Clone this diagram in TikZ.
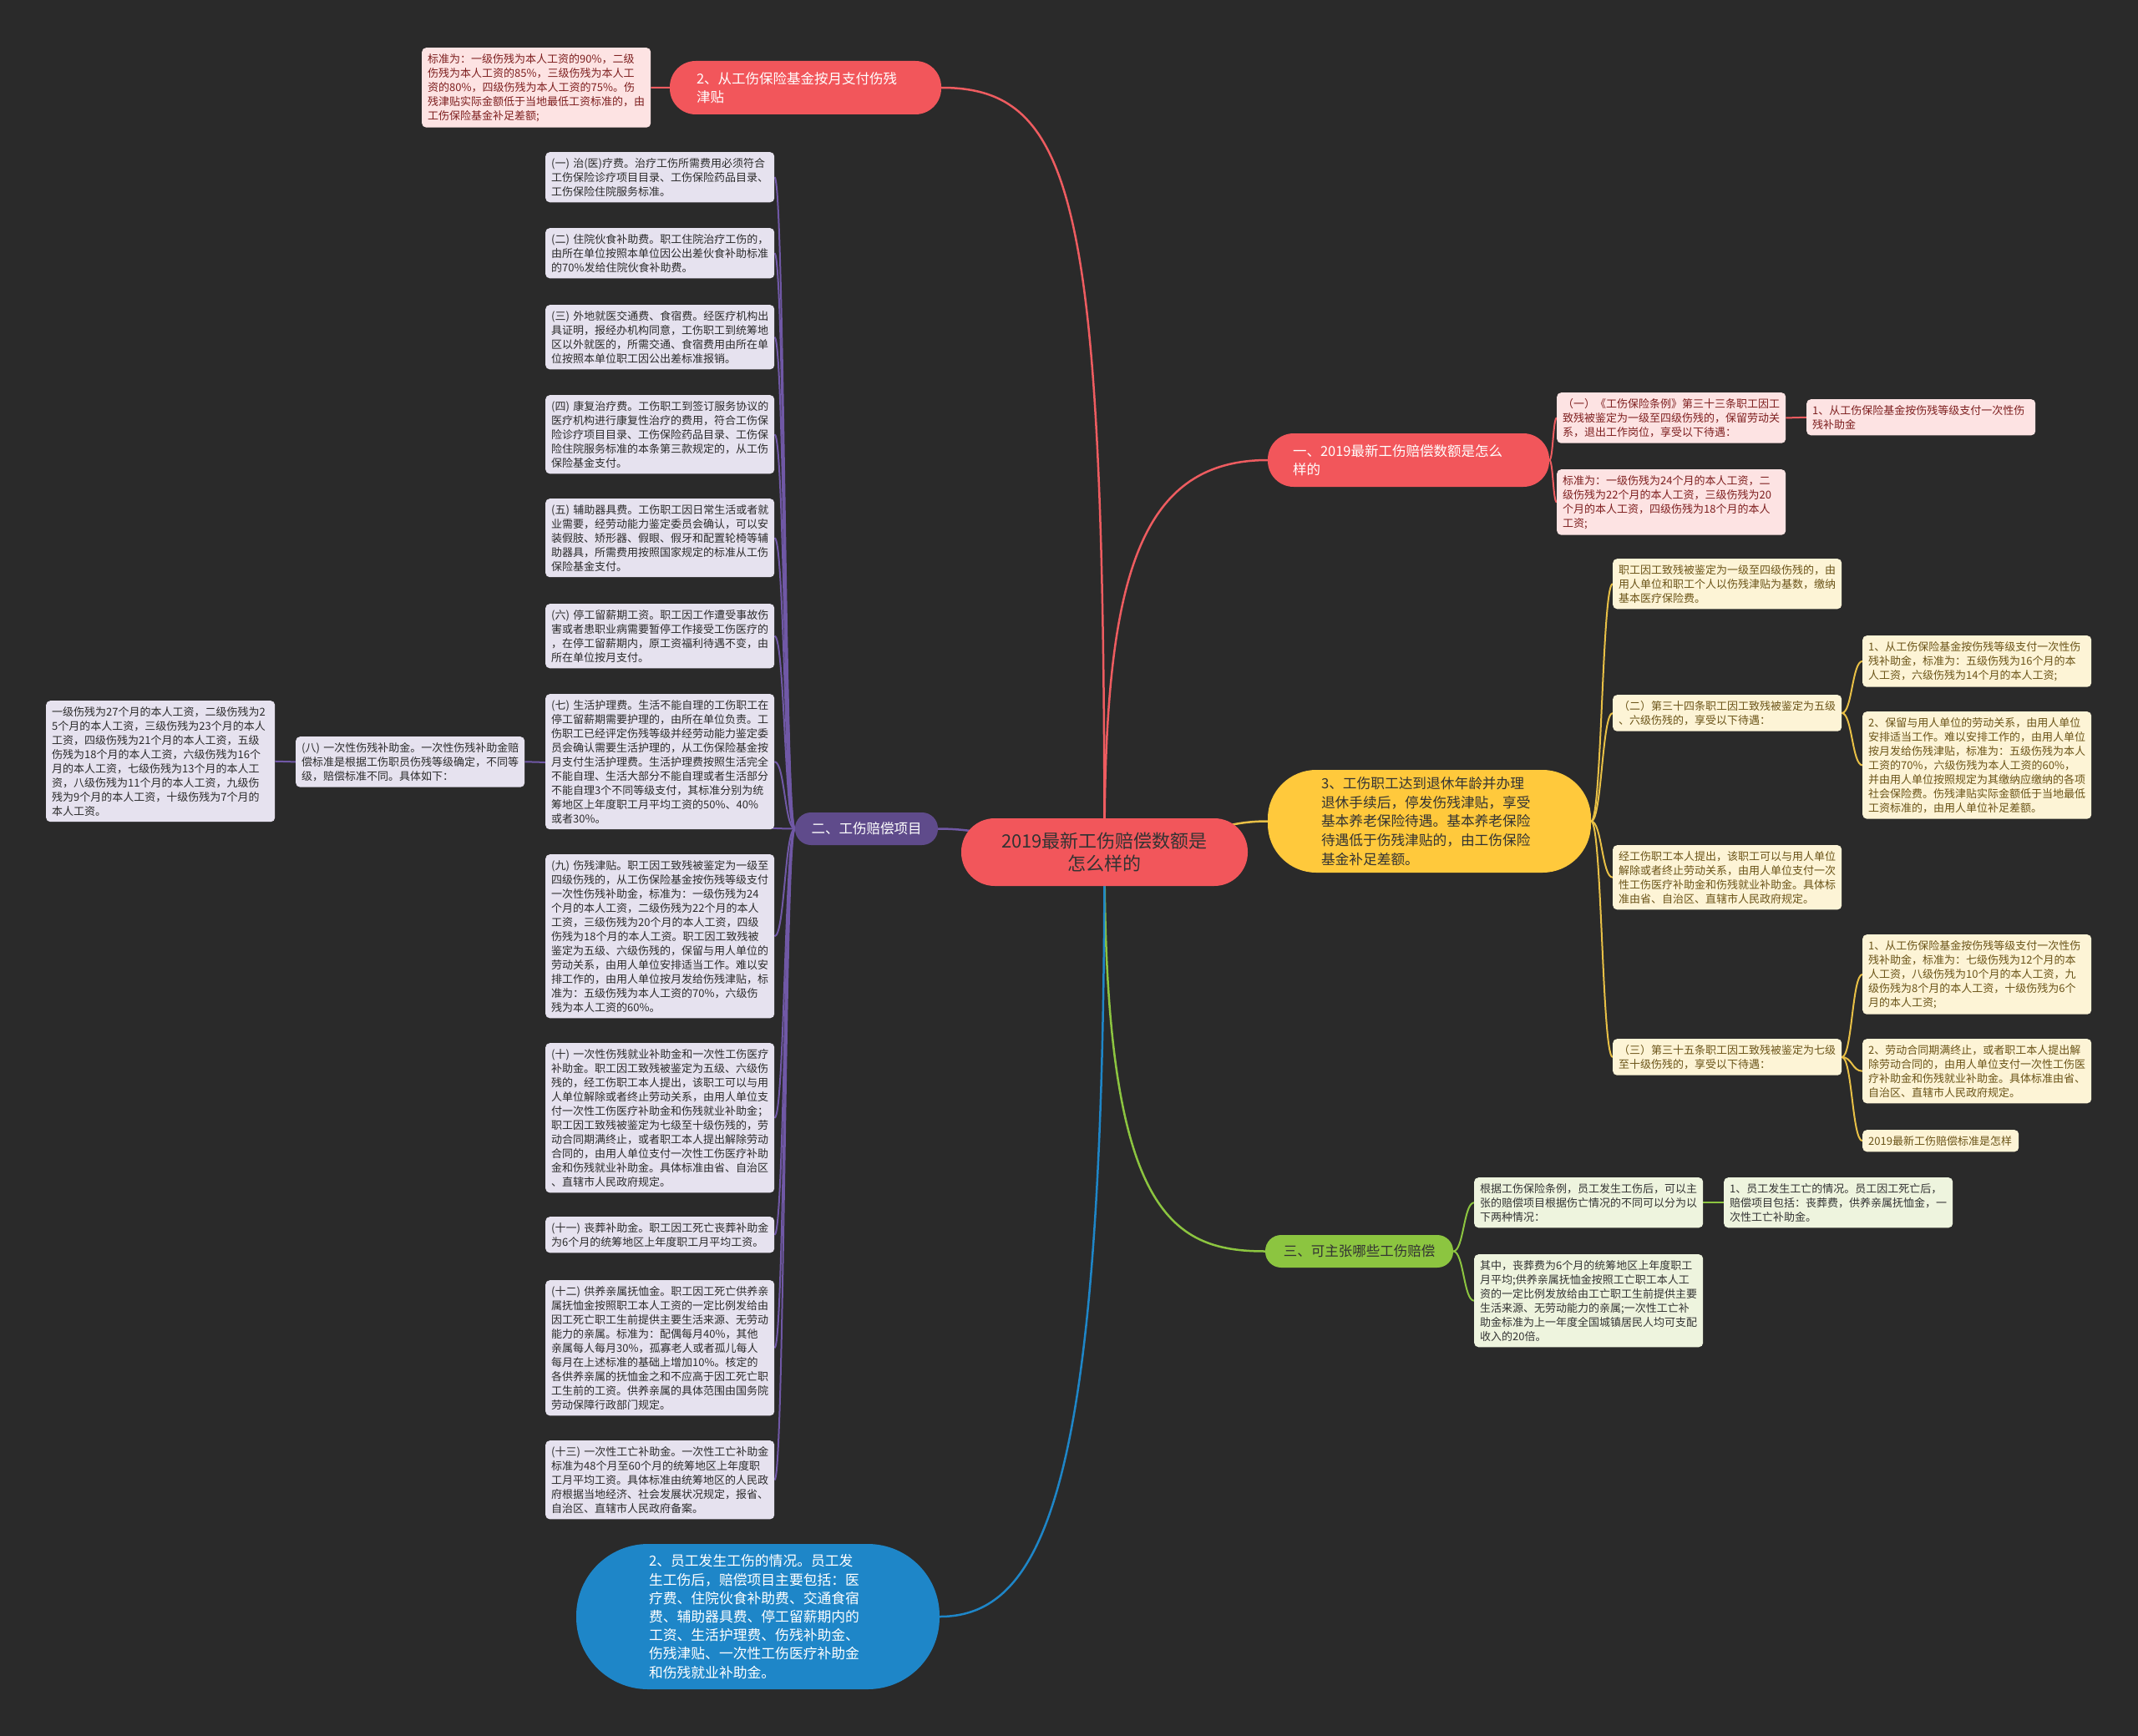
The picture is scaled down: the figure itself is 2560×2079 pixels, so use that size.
\documentclass[tikz,border=0pt]{standalone}
\usepackage{fontspec}
\setmainfont{Noto Sans CJK SC}
\usetikzlibrary{calc}
\pgfdeclarelayer{bg}
\pgfdeclarelayer{edges}
\pgfsetlayers{bg,edges,main}
\definecolor{bgc}{HTML}{2A2A2A}
\definecolor{redp}{HTML}{F2565B}
\definecolor{redl}{HTML}{EE5C60}
\definecolor{pinkf}{HTML}{FDE3E3}
\definecolor{pinkt}{HTML}{7E1F1F}
\definecolor{purp}{HTML}{5F4B8B}
\definecolor{purl}{HTML}{7058A6}
\definecolor{lavf}{HTML}{E6E2EF}
\definecolor{lavt}{HTML}{2B2B2B}
\definecolor{yelp}{HTML}{FFC93C}
\definecolor{yell}{HTML}{E8C046}
\definecolor{creamf}{HTML}{FDF4D6}
\definecolor{creamt}{HTML}{6B5418}
\definecolor{grnp}{HTML}{8CC540}
\definecolor{grnf}{HTML}{EEF4DE}
\definecolor{bluep}{HTML}{1E86C8}
\definecolor{darkt}{HTML}{333333}
\newcommand{\mmlink}[3]{\draw[#1] let \p1=(#2), \p2=(#3) in (\p1) .. controls ({(\x1+\x2)/2},\y1) and ({(\x1+\x2)/2},\y2) .. (\p2);}
\tikzset{
  box/.style={anchor=north west, rounded corners=5pt, inner xsep=7pt, inner ysep=7pt, text width=260pt, align=left, font=\fontsize{13}{17}\selectfont},
  lbox/.style={box, fill=lavf, text=lavt},
  pbox/.style={box, fill=pinkf, text=pinkt},
  ybox/.style={box, fill=creamf, text=creamt},
  gbox/.style={box, fill=grnf, text=darkt},
  pill/.style={inner sep=0pt, align=left, font=\fontsize{16.5}{21.7}\selectfont},
  redline/.style={draw=redl, line width=2pt},
  purline/.style={draw=purl, line width=2pt},
  yelline/.style={draw=yell, line width=2pt},
  grnline/.style={draw=grnp, line width=2pt},
  bluline/.style={draw=bluep, line width=2pt},
}
\begin{document}
\begin{tikzpicture}[x=1pt,y=-1pt]
\useasboundingbox (0,0) rectangle (2560,2079);
\begin{pgfonlayer}{bg}
\fill[bgc] (0,0) rectangle (2560,2079);
\end{pgfonlayer}

% centre
\node[fill=redp, text=darkt, minimum width=343pt, minimum height=81pt, rounded corners=40pt, align=center, inner sep=0pt, font=\fontsize{22}{27.7}\selectfont] (c) at (1322.5,1020.5) {2019最新工伤赔偿数额是\\怎么样的};

% red branch 1
\node[pill, fill=redp, text=white, minimum width=325pt, minimum height=64pt, text width=261pt, rounded corners=31pt] (r1) at (964.5,105) {2、从工伤保险基金按月支付伤残\\津贴};
\node[pbox] (note) at (505,57) {标准为：一级伤残为本人工资的90\%，二级\\伤残为本人工资的85\%，三级伤残为本人工\\资的80\%，四级伤残为本人工资的75\%。伤\\残津贴实际金额低于当地最低工资标准的，由\\工伤保险基金补足差额;};

% red branch 2
\node[pill, fill=redp, text=white, minimum width=337pt, minimum height=64pt, text width=277pt, rounded corners=31pt] (r2) at (1686.5,551) {一、2019最新工伤赔偿数额是怎么\\样的};
\node[pbox] (p1) at (1864,470) {（一）《工伤保险条例》第三十三条职工因工\\致残被鉴定为一级至四级伤残的，保留劳动关\\系，退出工作岗位，享受以下待遇：};
\node[pbox] (p2) at (2163,478) {1、从工伤保险基金按伤残等级支付一次性伤\\残补助金};
\node[pbox] (p3) at (1864,562) {标准为：一级伤残为24个月的本人工资，二\\级伤残为22个月的本人工资，三级伤残为20\\个月的本人工资，四级伤残为18个月的本人\\工资;};

% yellow branch
\node[pill, fill=yelp, text=darkt, minimum width=387pt, minimum height=123pt, text width=259pt, rounded corners=58pt, font=\fontsize{16.7}{22.7}\selectfont] (y) at (1711.5,983.5) {3、工伤职工达到退休年龄并办理\\退休手续后，停发伤残津贴，享受\\基本养老保险待遇。基本养老保险\\待遇低于伤残津贴的，由工伤保险\\基金补足差额。};
\node[ybox] (y1) at (1931,669) {职工因工致残被鉴定为一级至四级伤残的，由\\用人单位和职工个人以伤残津贴为基数，缴纳\\基本医疗保险费。};
\node[ybox] (y2) at (1931,832) {（二）第三十四条职工因工致残被鉴定为五级\\、六级伤残的，享受以下待遇：};
\node[ybox] (y2a) at (2230,761) {1、从工伤保险基金按伤残等级支付一次性伤\\残补助金，标准为：五级伤残为16个月的本\\人工资，六级伤残为14个月的本人工资;};
\node[ybox] (y2b) at (2230,852) {2、保留与用人单位的劳动关系，由用人单位\\安排适当工作。难以安排工作的，由用人单位\\按月发给伤残津贴，标准为：五级伤残为本人\\工资的70\%，六级伤残为本人工资的60\%，\\并由用人单位按照规定为其缴纳应缴纳的各项\\社会保险费。伤残津贴实际金额低于当地最低\\工资标准的，由用人单位补足差额。};
\node[ybox] (y3) at (1931,1012) {经工伤职工本人提出，该职工可以与用人单位\\解除或者终止劳动关系，由用人单位支付一次\\性工伤医疗补助金和伤残就业补助金。具体标\\准由省、自治区、直辖市人民政府规定。};
\node[ybox] (y4) at (1931,1244) {（三）第三十五条职工因工致残被鉴定为七级\\至十级伤残的，享受以下待遇：};
\node[ybox] (y4a) at (2230,1119) {1、从工伤保险基金按伤残等级支付一次性伤\\残补助金，标准为：七级伤残为12个月的本\\人工资，八级伤残为10个月的本人工资，九\\级伤残为8个月的本人工资，十级伤残为6个\\月的本人工资;};
\node[ybox] (y4b) at (2230,1244) {2、劳动合同期满终止，或者职工本人提出解\\除劳动合同的，由用人单位支付一次性工伤医\\疗补助金和伤残就业补助金。具体标准由省、\\自治区、直辖市人民政府规定。};
\node[ybox, text width=173pt] (y4c) at (2230,1353) {2019最新工伤赔偿标准是怎样};

% green branch
\node[pill, fill=grnp, text=darkt, minimum width=225pt, minimum height=39pt, rounded corners=19pt, align=center] (g) at (1627.5,1498.5) {三、可主张哪些工伤赔偿};
\node[gbox] (g1) at (1765,1410) {根据工伤保险条例，员工发生工伤后，可以主\\张的赔偿项目根据伤亡情况的不同可以分为以\\下两种情况：};
\node[gbox] (g1a) at (2064,1410) {1、员工发生工亡的情况。员工因工死亡后，\\赔偿项目包括：丧葬费，供养亲属抚恤金，一\\次性工亡补助金。};
\node[gbox] (g2) at (1765,1502) {其中，丧葬费为6个月的统筹地区上年度职工\\月平均;供养亲属抚恤金按照工亡职工本人工\\资的一定比例发放给由工亡职工生前提供主要\\生活来源、无劳动能力的亲属;一次性工亡补\\助金标准为上一年度全国城镇居民人均可支配\\收入的20倍。};

% blue branch
\node[pill, fill=bluep, text=white, minimum width=435pt, minimum height=174pt, text width=261pt, rounded corners=86pt, font=\fontsize{16.8}{22.2}\selectfont] (b) at (907.5,1936) {2、员工发生工伤的情况。员工发\\生工伤后，赔偿项目主要包括：医\\疗费、住院伙食补助费、交通食宿\\费、辅助器具费、停工留薪期内的\\工资、生活护理费、伤残补助金、\\伤残津贴、一次性工伤医疗补助金\\和伤残就业补助金。};

% purple branch
\node[pill, fill=purp, text=white, minimum width=171pt, minimum height=39pt, rounded corners=19pt, align=center] (pu) at (1037.5,992.5) {二、工伤赔偿项目};
\node[lbox] (l1) at (653,182) {(一)~治(医)疗费。治疗工伤所需费用必须符合\\工伤保险诊疗项目目录、工伤保险药品目录、\\工伤保险住院服务标准。};
\node[lbox] (l2) at (653,273) {(二)~住院伙食补助费。职工住院治疗工伤的，\\由所在单位按照本单位因公出差伙食补助标准\\的70\%发给住院伙食补助费。};
\node[lbox] (l3) at (653,365) {(三)~外地就医交通费、食宿费。经医疗机构出\\具证明，报经办机构同意，工伤职工到统筹地\\区以外就医的，所需交通、食宿费用由所在单\\位按照本单位职工因公出差标准报销。};
\node[lbox] (l4) at (653,473) {(四)~康复治疗费。工伤职工到签订服务协议的\\医疗机构进行康复性治疗的费用，符合工伤保\\险诊疗项目目录、工伤保险药品目录、工伤保\\险住院服务标准的本条第三款规定的，从工伤\\保险基金支付。};
\node[lbox] (l5) at (653,597) {(五)~辅助器具费。工伤职工因日常生活或者就\\业需要，经劳动能力鉴定委员会确认，可以安\\装假肢、矫形器、假眼、假牙和配置轮椅等辅\\助器具，所需费用按照国家规定的标准从工伤\\保险基金支付。};
\node[lbox] (l6) at (653,723) {(六)~停工留薪期工资。职工因工作遭受事故伤\\害或者患职业病需要暂停工作接受工伤医疗的\\，在停工留薪期内，原工资福利待遇不变，由\\所在单位按月支付。};
\node[lbox] (l7) at (653,831) {(七)~生活护理费。生活不能自理的工伤职工在\\停工留薪期需要护理的，由所在单位负责。工\\伤职工已经评定伤残等级并经劳动能力鉴定委\\员会确认需要生活护理的，从工伤保险基金按\\月支付生活护理费。生活护理费按照生活完全\\不能自理、生活大部分不能自理或者生活部分\\不能自理3个不同等级支付，其标准分别为统\\筹地区上年度职工月平均工资的50\%、40\%\\或者30\%。};
\node[lbox] (l8) at (354,882) {(八)~一次性伤残补助金。一次性伤残补助金赔\\偿标准是根据工伤职员伤残等级确定，不同等\\级，赔偿标准不同。具体如下：};
\node[lbox] (l8a) at (55,839) {一级伤残为27个月的本人工资，二级伤残为2\\5个月的本人工资，三级伤残为23个月的本人\\工资，四级伤残为21个月的本人工资，五级\\伤残为18个月的本人工资，六级伤残为16个\\月的本人工资，七级伤残为13个月的本人工\\资，八级伤残为11个月的本人工资，九级伤\\残为9个月的本人工资，十级伤残为7个月的\\本人工资。};
\node[lbox] (l9) at (653,1023) {(九)~伤残津贴。职工因工致残被鉴定为一级至\\四级伤残的，从工伤保险基金按伤残等级支付\\一次性伤残补助金，标准为：一级伤残为24\\个月的本人工资，二级伤残为22个月的本人\\工资，三级伤残为20个月的本人工资，四级\\伤残为18个月的本人工资。职工因工致残被\\鉴定为五级、六级伤残的，保留与用人单位的\\劳动关系，由用人单位安排适当工作。难以安\\排工作的，由用人单位按月发给伤残津贴，标\\准为：五级伤残为本人工资的70\%，六级伤\\残为本人工资的60\%。};
\node[lbox] (l10) at (653,1249) {(十)~一次性伤残就业补助金和一次性工伤医疗\\补助金。职工因工致残被鉴定为五级、六级伤\\残的，经工伤职工本人提出，该职工可以与用\\人单位解除或者终止劳动关系，由用人单位支\\付一次性工伤医疗补助金和伤残就业补助金；\\职工因工致残被鉴定为七级至十级伤残的，劳\\动合同期满终止，或者职工本人提出解除劳动\\合同的，由用人单位支付一次性工伤医疗补助\\金和伤残就业补助金。具体标准由省、自治区\\、直辖市人民政府规定。};
\node[lbox] (l11) at (653,1457) {(十一)~丧葬补助金。职工因工死亡丧葬补助金\\为6个月的统筹地区上年度职工月平均工资。};
\node[lbox] (l12) at (653,1533) {(十二)~供养亲属抚恤金。职工因工死亡供养亲\\属抚恤金按照职工本人工资的一定比例发给由\\因工死亡职工生前提供主要生活来源、无劳动\\能力的亲属。标准为：配偶每月40\%，其他\\亲属每人每月30\%，孤寡老人或者孤儿每人\\每月在上述标准的基础上增加10\%。核定的\\各供养亲属的抚恤金之和不应高于因工死亡职\\工生前的工资。供养亲属的具体范围由国务院\\劳动保障行政部门规定。};
\node[lbox] (l13) at (653,1725) {(十三)~一次性工亡补助金。一次性工亡补助金\\标准为48个月至60个月的统筹地区上年度职\\工月平均工资。具体标准由统筹地区的人民政\\府根据当地经济、社会发展状况规定，报省、\\自治区、直辖市人民政府备案。};

\begin{pgfonlayer}{edges}
% main branches
\draw[redline, line width=2.5pt] (c.center) .. controls (1322,250) and (1290,105) .. (r1.east);
\draw[redline, line width=2.5pt] (c.center) .. controls (1322,700) and (1360,551) .. (r2.west);
\draw[yelline, line width=2.5pt] (c.center) .. controls (1420,1020) and (1440,983.5) .. (y.west);
\draw[purline, line width=2.5pt] (c.center) .. controls (1230,1020) and (1200,992.5) .. (pu.east);
\draw[grnline, line width=2.5pt] (c.center) .. controls (1322,1450) and (1400,1498.5) .. (g.west);
\draw[bluline, line width=2.5pt] (c.center) .. controls (1322,1750) and (1260,1936) .. (b.east);
% red children
\draw[redline] (r1.west) -- (note.east);
\mmlink{redline}{r2.east}{p1.west}
\mmlink{redline}{r2.east}{p3.west}
\draw[redline] (p1.east) -- (p2.west);
% yellow children
\mmlink{yelline}{y.east}{y1.west}
\mmlink{yelline}{y.east}{y2.west}
\mmlink{yelline}{y.east}{y3.west}
\mmlink{yelline}{y.east}{y4.west}
\mmlink{yelline}{y2.east}{y2a.west}
\mmlink{yelline}{y2.east}{y2b.west}
\mmlink{yelline}{y4.east}{y4a.west}
\mmlink{yelline}{y4.east}{y4b.west}
\mmlink{yelline}{y4.east}{y4c.west}
% green children
\mmlink{grnline}{g.east}{g1.west}
\mmlink{grnline}{g.east}{g2.west}
\draw[grnline] (g1.east) -- (g1a.west);
% purple children
\mmlink{purline}{pu.west}{l1.east}
\mmlink{purline}{pu.west}{l2.east}
\mmlink{purline}{pu.west}{l3.east}
\mmlink{purline}{pu.west}{l4.east}
\mmlink{purline}{pu.west}{l5.east}
\mmlink{purline}{pu.west}{l6.east}
\mmlink{purline}{pu.west}{l7.east}
\mmlink{purline}{pu.west}{l8.east}
\mmlink{purline}{pu.west}{l9.east}
\mmlink{purline}{pu.west}{l10.east}
\mmlink{purline}{pu.west}{l11.east}
\mmlink{purline}{pu.west}{l12.east}
\mmlink{purline}{pu.west}{l13.east}
\draw[purline] (l8.west) -- (l8a.east);
\end{pgfonlayer}
\end{tikzpicture}
\end{document}
